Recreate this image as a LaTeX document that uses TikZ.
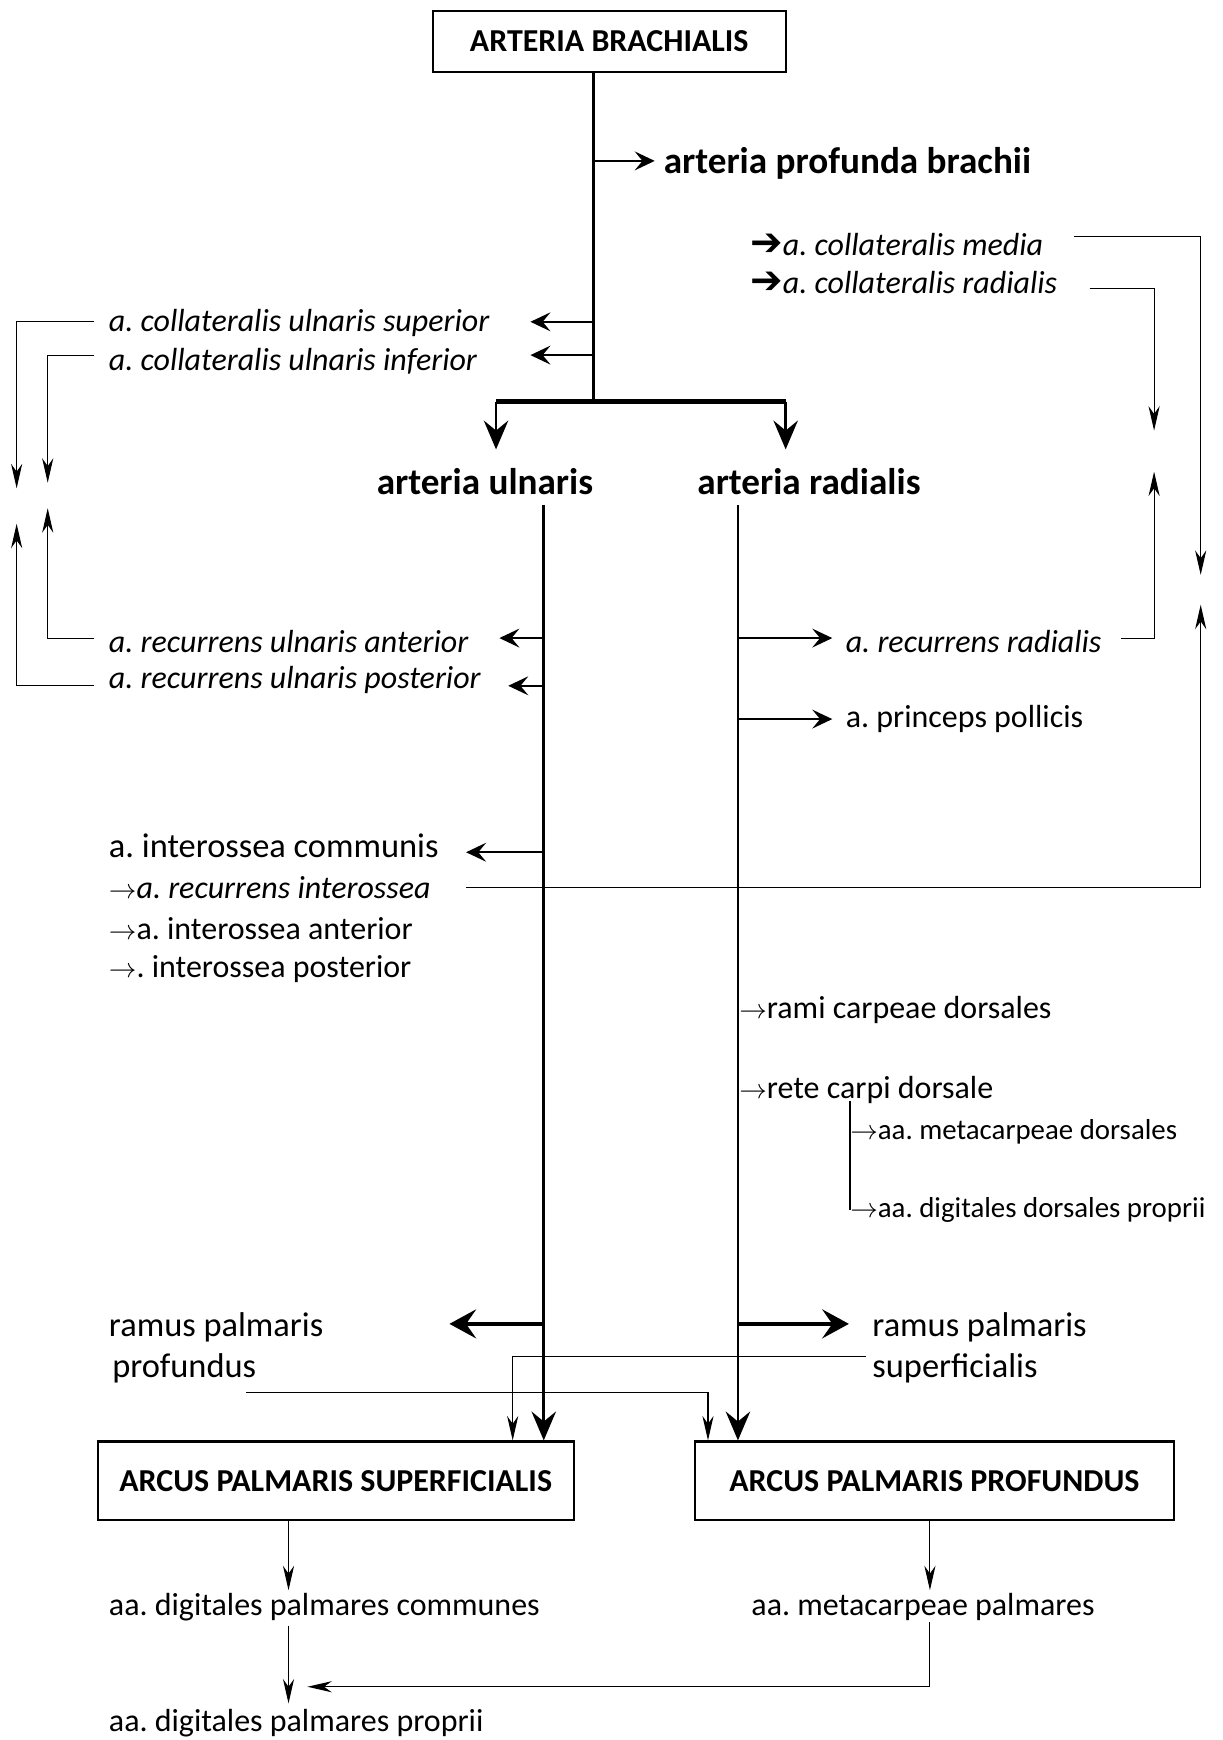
\documentclass[tikz,border=0pt]{standalone}
\usepackage{fontspec}
\setmainfont{Carlito}
\newfontfamily\symfont{DejaVu Sans}
\usetikzlibrary{arrows.meta,calc,positioning}
\frenchspacing

\begin{document}
\begin{tikzpicture}[x=1pt,y=-1pt,
  lbl/.style={anchor=west,inner sep=0pt,font=\fontsize{28.8}{34}\selectfont},
  ilbl/.style={lbl,font=\fontsize{28.8}{34}\selectfont\itshape},
  slbl/.style={lbl,font=\fontsize{26}{31}\selectfont},
  blbl/.style={inner sep=0pt,font=\fontsize{33.5}{40}\selectfont\bfseries},
  arcbox/.style={draw,line width=2pt,inner sep=0pt,font=\fontsize{28.8}{34}\selectfont\bfseries},
  vessel/.style={line width=2.5pt},
  big/.style={vessel,-{Stealth[length=26pt,width=22pt,inset=9pt]}},
  br/.style={line width=2pt,-{Stealth[length=18pt,width=17pt,inset=7pt]}},
  thk/.style={line width=4pt,-{Stealth[length=24pt,width=26pt,inset=9pt]}},
  thn/.style={line width=1pt,-{Stealth[length=22pt,width=10pt,inset=7pt]}}]
\useasboundingbox (0,0) rectangle (1102,1568);

% boxes
\node[arcbox,minimum width=318pt,minimum height=55pt] (brach) at (549,37.5) {ARTERIA BRACHIALIS};
\node[arcbox,minimum width=429pt,minimum height=71pt] (asup) at (302.5,1334.5) {ARCUS PALMARIS SUPERFICIALIS};
\node[arcbox,minimum width=432pt,minimum height=71pt] (aprof) at (842,1334.5) {ARCUS PALMARIS PROFUNDUS};

% trunk and the fork
\coordinate (trunk) at (535,65);
\coordinate (fork) at (535,362);
\coordinate (forkL) at (447,362);
\coordinate (forkR) at (708,362);
\coordinate (ul) at (490,455);
\coordinate (ra) at (665,455);

\node[blbl,anchor=west] (pbrach) at (598,147) {arteria profunda brachii};
\node[blbl] (ulnaris) at (437,434) {arteria ulnaris};
\node[blbl] (radialis) at (729,434) {arteria radialis};

\node[ilbl] (cmed) at (676,220) {{\symfont\upshape\fontsize{35}{40}\selectfont ➔}a. collateralis media};
\node[ilbl] (crad) at (676,255) {{\symfont\upshape\fontsize{35}{40}\selectfont ➔}a. collateralis radialis};
\node[ilbl] (cusup) at (98,291) {a. collateralis ulnaris superior};
\node[ilbl] (cuinf) at (98,326) {a. collateralis ulnaris inferior};

\node[ilbl] (rua) at (98,578) {a. recurrens ulnaris anterior};
\node[ilbl] (rup) at (98,613) {a. recurrens ulnaris posterior};
\node[ilbl] (rrad) at (762,578) {a. recurrens radialis};
\node[lbl] (princ) at (762,648) {a. princeps pollicis};

\node[lbl,font=\fontsize{31}{36}\selectfont] (icom) at (98,762) {a. interossea communis};
\node[ilbl] (irec) at (98,800) {$\rightarrow$a. recurrens interossea};
\node[lbl] (iant) at (98,837) {$\rightarrow$a. interossea anterior};
\node[lbl] (ipost) at (98,873) {$\rightarrow$. interossea posterior};

\node[lbl] (rcarp) at (666,910) {$\rightarrow$rami carpeae dorsales};
\node[lbl] (rete) at (666,982) {$\rightarrow$rete carpi dorsale};
\node[slbl] (mdors) at (766,1020) {$\rightarrow$aa. metacarpeae dorsales};
\node[slbl] (ddors) at (766,1090) {$\rightarrow$aa. digitales dorsales proprii};

\node[lbl,font=\fontsize{31}{36}\selectfont] (rpp) at (98,1196) {ramus palmaris};
\node[lbl,font=\fontsize{31}{36}\selectfont] (rpp2) at (101,1233) {profundus};
\node[lbl,font=\fontsize{31}{36}\selectfont] (rps) at (786,1196) {ramus palmaris};
\node[lbl,font=\fontsize{31}{36}\selectfont] (rps2) at (786,1233) {superficialis};

\node[lbl] (dpc) at (98,1448) {aa. digitales palmares communes};
\node[lbl] (mpal) at (677,1448) {aa. metacarpeae palmares};
\node[lbl] (dpp) at (98,1553) {aa. digitales palmares proprii};

% main vessels
\draw[vessel] (brach.south -| trunk) -- (fork);
\draw[line width=4pt] (forkL) -- (forkR);
\draw[big] (forkL) -- (447,405);
\draw[big] (forkR) -- (708,405);
\draw[big] (ul) -- (asup.north -| ul);
\draw[big] (ra) -- (aprof.north -| ra);

% branches of the trunk
\draw[br] (trunk |- 0,145) -- (590,145);
\draw[br] (trunk |- 0,290) -- (478,290);
\draw[br] (trunk |- 0,320) -- (478,320);

% branches of arteria ulnaris
\draw[br] (ul |- 0,575) -- (450,575);
\draw[br] (ul |- 0,618) -- (458,618);
\draw[br] (ul |- 0,768) -- (420,768);
\draw[thk] (ul |- 0,1193) -- (405,1193);

% branches of arteria radialis
\draw[br] (ra |- 0,575) -- (750,575);
\draw[br] (ra |- 0,648) -- (750,648);
\draw[thk] (ra |- 0,1193) -- (765,1193);
\draw[line width=1.3pt] (766,992) -- (766,1090);

% anastomoses around the elbow
\draw[thn] (85,290) -| (15,440);
\draw[thn] (85,320) -| (43,435);
\draw[thn] (85,575) -| (43,458);
\draw[thn] (85,618) -| (15,472);
\draw[thn] (968,213) -| (1082,518);
\draw[thn] (982,260) -| (1040,388);
\draw[thn] (1010,575) -| (1040,425);
\draw[thn] (420,800) -| (1082,545);

% palmar arches
\draw[thn] (780,1222) -| (asup.north -| 462,0);
\draw[thn] (222,1255) -| (aprof.north -| 638,0);
\draw[thn] (asup.south -| 260,0) -- (260,1433);
\draw[thn] (260,1465) -- (260,1535);
\draw[thn] (aprof.south -| 838,0) -- (838,1433);
\draw[thn] (838,1462) |- (277,1520);
\end{tikzpicture}
\end{document}
